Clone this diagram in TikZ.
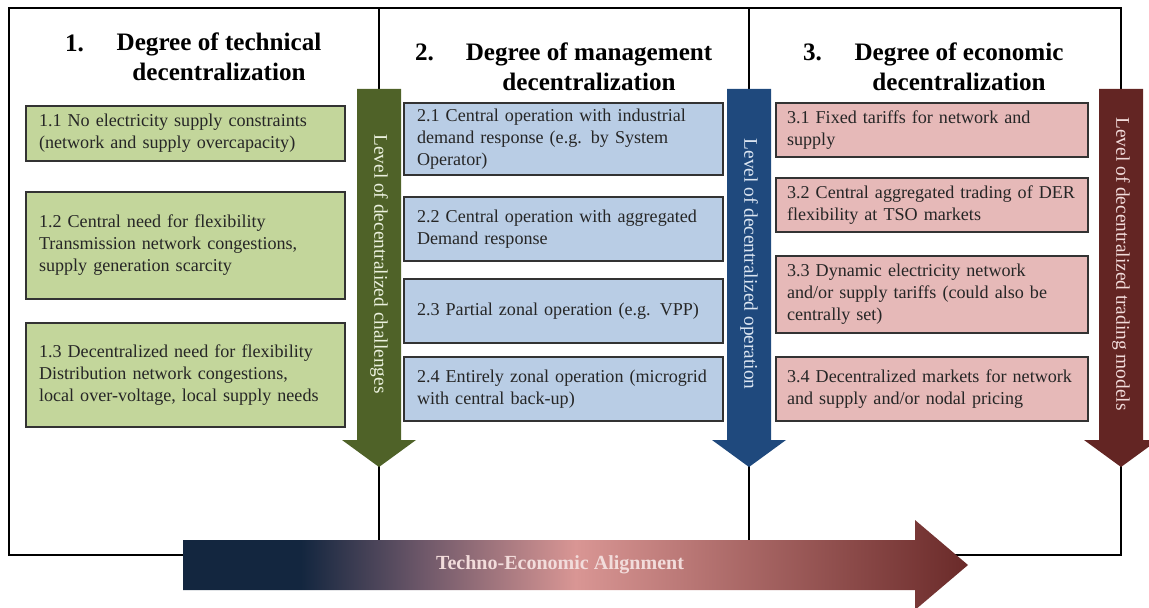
\documentclass[tikz,border=0pt]{standalone}
\usepackage{fontspec}
\setmainfont{Liberation Serif}
\definecolor{boxgreen}{HTML}{C3D69B}
\definecolor{boxblue}{HTML}{B9CDE5}
\definecolor{boxred}{HTML}{E6B9B8}
\definecolor{arrgreen}{HTML}{4F6228}
\definecolor{arrblue}{HTML}{1F497D}
\definecolor{arrred}{HTML}{632523}
\definecolor{txtgreen}{HTML}{EBF1DE}
\definecolor{txtblue}{HTML}{DCE6F2}
\definecolor{txtred}{HTML}{F2DCDB}
\definecolor{alnavy}{HTML}{13263F}
\definecolor{algrey}{HTML}{6B5668}
\definecolor{alpink}{HTML}{D99694}
\definecolor{alred}{HTML}{6A2A29}
\pgfdeclarehorizontalshading{alignshade}{100bp}{color(0bp)=(alnavy); color(25bp)=(alnavy); color(32.5bp)=(alnavy); color(40bp)=(algrey); color(50bp)=(alpink); color(75bp)=(alred); color(100bp)=(alred)}

\begin{document}
\begin{tikzpicture}[x=0.02cm, y=-0.02cm,
    frame/.style={line width=1.2pt, black},
    item/.style={draw=black!80, line width=0.8pt, text=black!85, font=\fontsize{10.3}{12.5}\selectfont, align=left, text width=5.86cm, inner xsep=0.26cm, inner ysep=0pt},
    greenitem/.style={item, fill=boxgreen},
    blueitem/.style={item, fill=boxblue},
    reditem/.style={item, fill=boxred, text width=5.8cm, inner xsep=0.22cm},
    heading/.style={font=\fontsize{14.3}{17.5}\selectfont\bfseries, align=center, anchor=base, inner sep=0pt},
    headnum/.style={font=\fontsize{14.3}{17.5}\selectfont\bfseries, anchor=base, inner sep=0pt},
    levellabel/.style={font=\fontsize{11}{13}\selectfont, rotate=-90, inner sep=0pt}]
  \useasboundingbox (0,0) rectangle (1149,608);
  \draw [frame] (9,8) rectangle (1121,555);
  \draw [frame] (379,8) -- (379,550);
  \draw [frame] (749,8) -- (749,550);

  \node [headnum] (n1) at (74.5,52) {1.};
  \node [heading] (t1) at (219,81) {Degree of technical\\decentralization};
  \node [headnum] (n2) at (424.5,61) {2.};
  \node [heading] (t2) at (589,91) {Degree of management\\decentralization};
  \node [headnum] (n3) at (812.5,61) {3.};
  \node [heading] (t3) at (959,91) {Degree of economic\\decentralization};

  \node [greenitem, minimum height=1.10cm] (b11) at (185.5,133.5) {1.1 No electricity supply constraints\\(network and supply overcapacity)};
  \node [greenitem, minimum height=2.14cm] (b12) at (185.5,245.5) {1.2 Central need for flexibility\\Transmission network congestions,\\supply generation scarcity};
  \node [greenitem, minimum height=2.08cm] (b13) at (185.5,375) {1.3 Decentralized need for flexibility\\Distribution network congestions,\\local over-voltage, local supply needs};

  \node [blueitem, minimum height=1.44cm] (b21) at (563.5,139) {2.1 Central operation with industrial\\demand response (e.g. by System\\Operator)};
  \node [blueitem, minimum height=1.28cm] (b22) at (563.5,229) {2.2 Central operation with aggregated\\Demand response};
  \node [blueitem, minimum height=1.28cm] (b23) at (563.5,311) {2.3 Partial zonal operation (e.g. VPP)};
  \node [blueitem, minimum height=1.28cm] (b24) at (563.5,389) {2.4 Entirely zonal operation (microgrid\\with central back-up)};

  \node [reditem, minimum height=1.08cm] (b31) at (932,130) {3.1 Fixed tariffs for network and\\supply};
  \node [reditem, minimum height=1.08cm] (b32) at (932,205) {3.2 Central aggregated trading of DER\\flexibility at TSO markets};
  \node [reditem, minimum height=1.54cm] (b33) at (932,294.5) {3.3 Dynamic electricity network\\and/or supply tariffs (could also be\\centrally set)};
  \node [reditem, minimum height=1.28cm] (b34) at (932,389) {3.4 Decentralized markets for network\\and supply and/or nodal pricing};

  \foreach \x/\c/\t/\n/\s in {379/arrgreen/txtgreen/lv1/Level of decentralized challenges,
      749/arrblue/txtblue/lv2/Level of decentralized operation,
      1121/arrred/txtred/lv3/Level of decentralized trading models} {
    \fill [\c] ({\x-22},89) -- ({\x+22},89) -- ({\x+22},440) -- ({\x+37},440) -- (\x,467) -- ({\x-37},440) -- ({\x-22},440) -- cycle;
    \node [levellabel, text=\t] (\n) at (\x,264) {\s};
  }

  \shade [shading=alignshade] (183,540) -- (915,540) -- (915,520) -- (968,565) -- (915,610) -- (915,590) -- (183,590) -- cycle;
  \node [font=\fontsize{11.4}{13}\selectfont\bfseries, text=txtred, inner sep=0pt] (align) at (560,565) {Techno-Economic Alignment};
\end{tikzpicture}
\end{document}
